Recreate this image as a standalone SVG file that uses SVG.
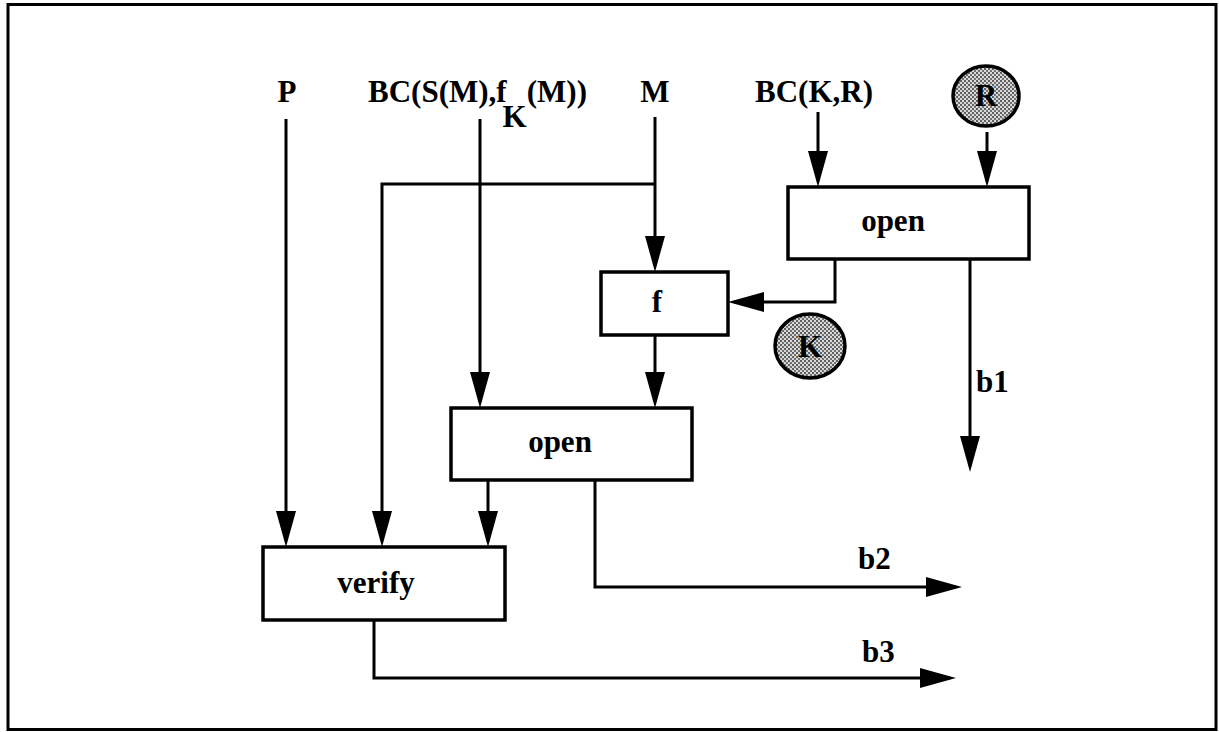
<svg xmlns="http://www.w3.org/2000/svg" width="1219" height="732" viewBox="0 0 1219 732">
<style>
.t{font-family:"Liberation Serif","Times New Roman",serif;font-weight:bold;font-size:31px;fill:#000}
.box{fill:#fff;stroke:#000;stroke-width:3.5}
.c{fill:none;stroke:#000;stroke-width:3}
.ball{fill:url(#dots);stroke:#000;stroke-width:3.5}
</style>
<defs>
<pattern id="dots" width="4" height="4" patternUnits="userSpaceOnUse">
<rect width="4" height="4" fill="#d8d8d8"/>
<rect width="2" height="2" fill="#606060"/>
<rect x="2" y="2" width="2" height="2" fill="#707070"/>
</pattern>
<marker id="ah" markerUnits="userSpaceOnUse" markerWidth="36" markerHeight="20" viewBox="0 0 36 20" refX="30" refY="10" orient="auto">
<path d="M0,0 L36,10 L0,20 z" fill="#000"/>
</marker>
</defs>
<rect x="0" y="0" width="1219" height="732" fill="#fff"/>
<rect x="8" y="4.5" width="1208" height="725" fill="none" stroke="#000" stroke-width="3"/>

<g id="connectors">
<path class="c" d="M286,119 V541" marker-end="url(#ah)"/>
<path class="c" d="M480,119 V402" marker-end="url(#ah)"/>
<path class="c" d="M655,117 V266" marker-end="url(#ah)"/>
<path class="c" d="M655,184 H382 V541" marker-end="url(#ah)"/>
<path class="c" d="M818,112 V181" marker-end="url(#ah)"/>
<path class="c" d="M987,132 V181" marker-end="url(#ah)"/>
<path class="c" d="M835,259 V302 H734" marker-end="url(#ah)"/>
<path class="c" d="M970,259 V466" marker-end="url(#ah)"/>
<path class="c" d="M655,335 V402" marker-end="url(#ah)"/>
<path class="c" d="M488,480 V541" marker-end="url(#ah)"/>
<path class="c" d="M595,480 V587 H956" marker-end="url(#ah)"/>
<path class="c" d="M374,620 V678 H950" marker-end="url(#ah)"/>
</g>

<g id="label-P"><text class="t" x="287" y="102" text-anchor="middle">P</text></g>
<g id="label-BCS"><text class="t" x="368" y="102">BC(S(M),f<tspan dx="-4" dy="25">K</tspan><tspan dy="-25">(M))</tspan></text></g>
<g id="label-M"><text class="t" x="655" y="102" text-anchor="middle">M</text></g>
<g id="label-BCKR"><text class="t" x="755" y="102">BC(K,R)</text></g>

<g id="node-R">
<ellipse class="ball" cx="986" cy="96" rx="33" ry="30"/>
<text class="t" x="986" y="106" text-anchor="middle">R</text>
</g>

<g id="node-open1">
<rect class="box" x="788" y="187" width="241" height="72"/>
<text class="t" x="893" y="231" text-anchor="middle">open</text>
</g>

<g id="node-f">
<rect class="box" x="601" y="272" width="127" height="63"/>
<text class="t" x="657" y="312" text-anchor="middle">f</text>
</g>

<g id="node-K">
<ellipse class="ball" cx="810" cy="346" rx="35" ry="32"/>
<text class="t" x="810" y="357" text-anchor="middle">K</text>
</g>

<g id="node-open2">
<rect class="box" x="451" y="408" width="241" height="72"/>
<text class="t" x="560" y="452" text-anchor="middle">open</text>
</g>

<g id="node-verify">
<rect class="box" x="263" y="547" width="242" height="73"/>
<text class="t" x="376" y="593" text-anchor="middle">verify</text>
</g>

<g id="label-b1"><text class="t" x="976" y="392">b1</text></g>
<g id="label-b2"><text class="t" x="858" y="569">b2</text></g>
<g id="label-b3"><text class="t" x="862" y="662">b3</text></g>
</svg>
